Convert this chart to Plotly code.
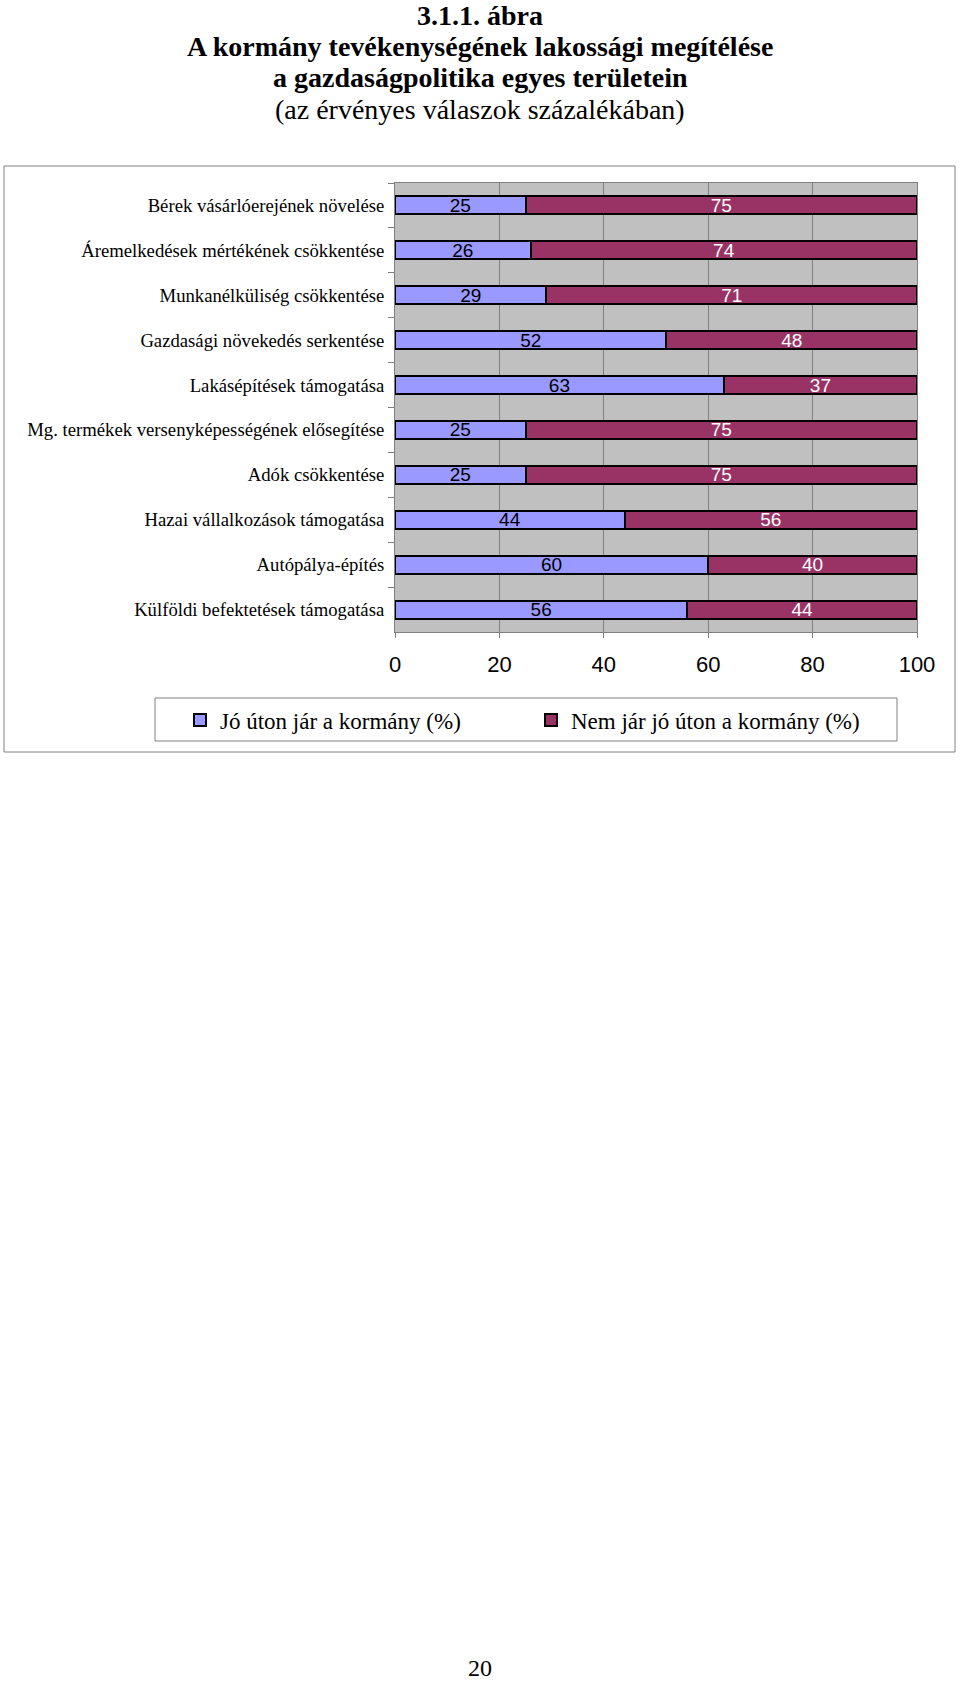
import plotly.graph_objects as go

# ---- data ----
categories = [
    "Bérek vásárlóerejének növelése",
    "Áremelkedések mértékének csökkentése",
    "Munkanélküliség csökkentése",
    "Gazdasági növekedés serkentése",
    "Lakásépítések támogatása",
    "Mg. termékek versenyképességének elősegítése",
    "Adók csökkentése",
    "Hazai vállalkozások támogatása",
    "Autópálya-építés",
    "Külföldi befektetések támogatása",
]
good = [25, 26, 29, 52, 63, 25, 25, 44, 60, 56]
bad = [75, 74, 71, 48, 37, 75, 75, 56, 40, 44]
series_names = ["Jó úton jár a kormány (%)", "Nem jár jó úton a kormány (%)"]
x_ticks = [0, 20, 40, 60, 80, 100]
title_lines = [
    "3.1.1. ábra",
    "A kormány tevékenységének lakossági megítélése",
    "a gazdaságpolitika egyes területein",
    "(az érvényes válaszok százalékában)",
]
page_number = "20"

# ---- layout geometry (pixels) ----
W, H = 960, 1682
PL, PR, PT, PB = 395, 917, 183, 632
PW, PH = PR - PL, PB - PT


def px(x):
    return (x - PL) / PW


def py(y):
    return (PB - y) / PH


SERIF = "Liberation Serif, Times New Roman, serif"
SANS = "Liberation Sans, Arial, sans-serif"

fig = go.Figure()
fig.add_trace(go.Bar(
    y=categories, x=good, orientation="h", name=series_names[0],
    marker=dict(color="#9999FF", line=dict(color="#000000", width=2)),
    text=good, textposition="inside", insidetextanchor="middle",
    textangle=0, constraintext="none",
    textfont=dict(family=SANS, size=19, color="#000000"),
    legend="legend",
))
fig.add_trace(go.Bar(
    y=categories, x=bad, orientation="h", name=series_names[1],
    marker=dict(color="#993366", line=dict(color="#000000", width=2)),
    text=bad, textposition="inside", insidetextanchor="middle",
    textangle=0, constraintext="none",
    textfont=dict(family=SANS, size=19, color="#FFFFFF"),
    legend="legend2",
))

annotations = []
title_y = [15, 46, 78, 109]
for i, (t, yy) in enumerate(zip(title_lines, title_y)):
    txt = "<b>%s</b>" % t if i < 3 else t
    annotations.append(dict(
        text=txt, x=px(480), y=py(yy), xref="paper", yref="paper",
        xanchor="center", yanchor="middle", showarrow=False,
        font=dict(family=SERIF, size=28, color="#000000"),
    ))
annotations.append(dict(
    text=page_number, x=px(480), y=py(1668), xref="paper", yref="paper",
    xanchor="center", yanchor="middle", showarrow=False,
    font=dict(family=SERIF, size=24, color="#000000"),
))

shapes = [
    dict(type="rect", xref="paper", yref="paper",
         x0=px(4), x1=px(955), y0=py(752), y1=py(166),
         line=dict(color="#808080", width=1), fillcolor="rgba(0,0,0,0)", layer="below"),
    dict(type="rect", xref="paper", yref="paper",
         x0=px(155), x1=px(897), y0=py(741), y1=py(698),
         line=dict(color="#808080", width=1), fillcolor="rgba(0,0,0,0)", layer="below"),
]

legend_common = dict(
    orientation="h", yanchor="middle", xanchor="left",
    bgcolor="rgba(0,0,0,0)", borderwidth=0,
    font=dict(family=SERIF, size=23, color="#000000"),
    itemwidth=30,
)

fig.update_layout(
    width=W, height=H,
    margin=dict(l=PL, r=W - PR, t=PT, b=H - PB, pad=0),
    paper_bgcolor="#FFFFFF", plot_bgcolor="#C0C0C0",
    barmode="stack", bargap=0.6,
    showlegend=True,
    legend=dict(x=px(180), y=py(720), **legend_common),
    legend2=dict(x=px(531), y=py(720), **legend_common),
    annotations=annotations, shapes=shapes,
    hovermode=False,
    xaxis=dict(
        range=[0, 100], tickvals=x_ticks, ticktext=[str(v) for v in x_ticks],
        showgrid=True, gridcolor="#808080", gridwidth=1,
        showline=True, linecolor="#808080", linewidth=1, mirror=True,
        ticks="outside", ticklen=5, tickcolor="#808080",
        tickfont=dict(family=SANS, size=22, color="#000000"),
        ticklabelstandoff=8, zeroline=False, fixedrange=True,
    ),
    yaxis=dict(
        type="category", autorange="reversed", tickson="boundaries",
        showgrid=False, showline=True, linecolor="#808080", linewidth=1, mirror=True,
        ticks="outside", ticklen=6, tickcolor="#808080",
        tickfont=dict(family=SERIF, size=18.7, color="#000000"),
        ticklabelstandoff=6, fixedrange=True,
    ),
)

fig.write_html(
    "out.html",
    config={"displayModeBar": False, "staticPlot": True},
    post_script="document.body.style.margin='0';document.body.style.overflow='hidden';",
)
